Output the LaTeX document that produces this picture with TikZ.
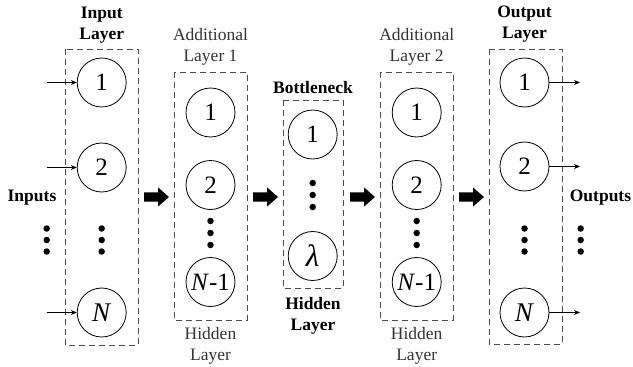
\documentclass[tikz,border=0pt]{standalone}
\usepackage{fontspec}
\setmainfont{Liberation Serif}
\usetikzlibrary{arrows.meta}

\tikzset{
  neuron/.style={draw, circle, line width=0.8pt, minimum size=49pt, inner sep=0pt,
                 font=\fontsize{25}{28}\selectfont},
  layerbox/.style={draw=black!70, dashed, dash pattern=on 6pt off 4pt, line width=0.8pt},
  dotmark/.style={fill=black, circle, inner sep=0pt, minimum size=6.5pt},
  boldlabel/.style={align=center, font=\fontsize{17.5}{21}\selectfont\bfseries},
  thinlabel/.style={align=center, text=black!80, font=\fontsize{17.5}{21}\selectfont},
  smallarrow/.style={line width=0.8pt, -{Stealth[length=6pt,width=5pt]}},
  fatarrow/.pic={\fill (0,-4.7) -- (14,-4.7) -- (14,-9.6) -- (25,0) -- (14,9.6) -- (14,4.7) -- (0,4.7) -- cycle;}
}

\begin{document}
\begin{tikzpicture}[x=1pt, y=-1pt]
  \useasboundingbox (0,0) rectangle (633,367);

  % dashed layer frames
  \draw[layerbox] (65,49) rectangle (138,345);
  \draw[layerbox] (174,72) rectangle (247,320);
  \draw[layerbox] (283,100) rectangle (343,288);
  \draw[layerbox] (380,72) rectangle (453,320);
  \draw[layerbox] (489,49) rectangle (562,344);

  % input layer
  \node[neuron] (in1) at (101.7,82.5) {1};
  \node[neuron] (in2) at (101.7,167.5) {2};
  \node[neuron] (inN) at (101.7,312.5) {\fontsize{27}{28}\selectfont\textit{N}};
  \foreach \y in {228.5,240,251.5} {
    \node[dotmark] at (101.7,\y) {};
    \node[dotmark] at (46.7,\y) {};
  }
  \coordinate (s1) at (46.7,82.5);
  \coordinate (s2) at (46.7,167.5);
  \coordinate (sN) at (46.7,312.5);
  \draw[smallarrow] (s1) -- (in1);
  \draw[smallarrow] (s2) -- (in2);
  \draw[smallarrow] (sN) -- (inN);

  % additional layer 1
  \node[neuron] (a1) at (210.5,112.5) {1};
  \node[neuron] (a2) at (210.5,185) {2};
  \node[neuron] (aN) at (210.5,282) {\textit{N}-1};
  \foreach \y in {221,233,245} \node[dotmark] at (210.5,\y) {};

  % bottleneck
  \node[neuron] (b1) at (312.7,134.5) {1};
  \node[neuron] (bL) at (312.7,256) {\fontsize{31}{32}\selectfont\textit{λ}};
  \foreach \y in {183,195,207} \node[dotmark] at (312.7,\y) {};

  % additional layer 2
  \node[neuron] (c1) at (416.7,112.5) {1};
  \node[neuron] (c2) at (416.7,185) {2};
  \node[neuron] (cN) at (416.7,282) {\textit{N}-1};
  \foreach \y in {221,233,245} \node[dotmark] at (416.7,\y) {};

  % output layer
  \node[neuron] (o1) at (524.5,82.5) {1};
  \node[neuron] (o2) at (524.5,166.5) {2};
  \node[neuron] (oN) at (524.5,312.5) {\fontsize{27}{28}\selectfont\textit{N}};
  \foreach \y in {228.5,240,251.5} {
    \node[dotmark] at (524.5,\y) {};
    \node[dotmark] at (580.7,\y) {};
  }
  \coordinate (t1) at (580,82.5);
  \coordinate (t2) at (580,166.5);
  \coordinate (tN) at (580,312.5);
  \draw[smallarrow] (o1) -- (t1);
  \draw[smallarrow] (o2) -- (t2);
  \draw[smallarrow] (oN) -- (tN);

  % block arrows between layers
  \pic at (144,197) {fatarrow};
  \pic at (253,197) {fatarrow};
  \pic at (350,197) {fatarrow};
  \pic at (459,197) {fatarrow};

  % labels
  \node[boldlabel] (lin) at (101.7,25.5) {Input\\Layer};
  \node[thinlabel] (la1) at (210.5,47) {Additional\\Layer 1};
  \node[boldlabel] (lbn) at (313,88) {Bottleneck};
  \node[thinlabel] (la2) at (416.7,47) {Additional\\Layer 2};
  \node[boldlabel] (lout) at (524.5,24.5) {Output\\Layer};
  \node[thinlabel] (lh1) at (210.5,345.5) {Hidden\\Layer};
  \node[boldlabel] (lhb) at (313,315.5) {Hidden\\Layer};
  \node[thinlabel] (lh2) at (416.7,345.5) {Hidden\\Layer};
  \node[boldlabel] (linp) at (32,198) {Inputs};
  \node[boldlabel] (lout2) at (600.5,198) {Outputs};
\end{tikzpicture}
\end{document}
